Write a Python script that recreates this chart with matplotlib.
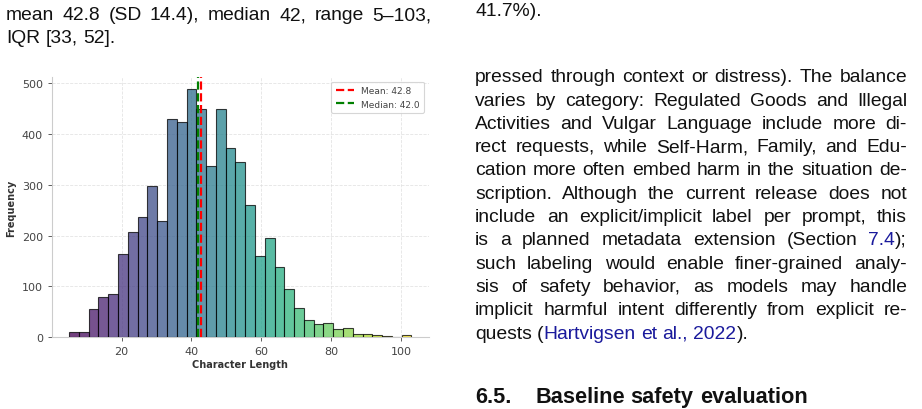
import re
import numpy as np
import matplotlib
matplotlib.use("Agg")
import matplotlib.pyplot as plt
from matplotlib.lines import Line2D

# ── histogram data ────
bin_start = 5
bin_stop = 103
counts = [9, 9, 55, 79, 84, 164, 207, 237, 298, 228, 430, 423, 488, 449,
          337, 450, 372, 345, 261, 159, 195, 137, 94, 58, 33, 26, 28, 16,
          18, 5, 5, 3, 1, 0, 3]
mean_len = 42.8
median_len = 42.0
x_ticks = [20, 40, 60, 80, 100]
y_ticks = [0, 100, 200, 300, 400, 500]

# ── surrounding page text ────
left_lines = [
    ("mean 42.8 (SD 14.4), median 42, range 5–103,", True),
    ("IQR [33, 52].", False),
]
right_top = ("41.7%).", False)
right_lines = [
    ("pressed through context or distress). The balance", True),
    ("varies by category:  Regulated Goods and Illegal", True),
    ("Activities and Vulgar Language include more di-", True),
    ("rect requests, while Self-Harm, Family, and Edu-", True),
    ("cation more often embed harm in the situation de-", True),
    ("scription.  Although the current release does not", True),
    ("include an explicit/implicit label per prompt,  this", True),
    ("is a planned metadata extension (Section {7.4});", True),
    ("such labeling would enable finer-grained analy-", True),
    ("sis of safety behavior, as models may handle", True),
    ("implicit harmful intent differently from explicit re-", True),
    ("quests ({Hartvigsen} {et} {al.,} {2022}).", False),
]
heading_num = "6.5."
heading = "Baseline safety evaluation"

TEXT = "#111111"
LINK = "#1a1a9c"
TICK = "#444444"
GRID = "#dddddd"
BODY_FONT = "Liberation Sans"
BODY_SIZE = 13.9

fig = plt.figure(figsize=(9.22, 4.10), dpi=100)
fig.patch.set_facecolor("white")
renderer = fig.canvas.get_renderer()
W, H = 922, 410


def draw_line(text, x0, x1, y, justify, size=BODY_SIZE, weight="normal"):
    """Place one line of page text word by word on a common baseline."""
    base = y + size * 100 / 72 * 0.27   # line centre -> baseline
    words = text.split()
    placed = []
    for word in words:
        parts = [p for p in re.split(r"(\{[^}]*\})", word) if p]
        items = []
        for p in parts:
            color = TEXT
            if p.startswith("{"):
                p = p[1:-1]
                color = LINK
            t = fig.text(0, 0, p, fontsize=size, family=BODY_FONT,
                         weight=weight, color=color, va="baseline", ha="left")
            w = t.get_window_extent(renderer).width
            items.append((t, w))
        placed.append(items)
    widths = [sum(w for _, w in items) for items in placed]
    space = size * 0.278 * 100 / 72
    if justify and len(words) > 1:
        gap = (x1 - x0 - sum(widths)) / (len(words) - 1)
    else:
        gap = space
    x = x0
    for items, wsum in zip(placed, widths):
        cx = x
        for t, w in items:
            t.set_position((cx / W, 1 - base / H))
            cx += w
        x += wsum + gap


draw_line(left_lines[0][0], 6, 431, 15, left_lines[0][1])
draw_line(left_lines[1][0], 6, 431, 38, left_lines[1][1])
draw_line(right_top[0], 475, 907, 11, right_top[1])
for i, (line, just) in enumerate(right_lines):
    draw_line(line, 475, 907, 77 + i * 23.3, just)
draw_line(heading_num, 475, 907, 397, False, size=15.7, weight="bold")
draw_line(heading, 535, 907, 397, False, size=15.7, weight="bold")

# ── histogram ────
ax = fig.add_axes([52 / W, 1 - 338 / H, (428.6 - 52) / W, (338 - 78) / H])
edges = np.linspace(bin_start, bin_stop, len(counts) + 1)
colors = plt.cm.viridis(np.linspace(0, 1, len(counts)))
ax.bar(edges[:-1], counts, width=np.diff(edges), align="edge",
       color=colors, alpha=0.75, edgecolor="black", linewidth=0.8, zorder=3)

ax.axvline(mean_len, color="red", linestyle="--", linewidth=1.6, zorder=4)
ax.axvline(median_len, color="green", linestyle="--", linewidth=1.6, zorder=4)

handles = [
    Line2D([0], [0], color="red", linestyle="--", linewidth=1.6,
           label=f"Mean: {mean_len:.1f}"),
    Line2D([0], [0], color="green", linestyle="--", linewidth=1.6,
           label=f"Median: {median_len:.1f}"),
]
leg = ax.legend(handles=handles, loc="upper right", fontsize=6.5,
                frameon=True, fancybox=True, borderpad=0.5,
                handlelength=2.0, labelspacing=0.5, labelcolor="#444444")
leg.get_frame().set_edgecolor("#cccccc")
leg.get_frame().set_linewidth(0.8)

ax.set_xlim(0.1, 107.9)
ax.set_ylim(0, 512.4)
ax.set_xticks(x_ticks)
ax.set_yticks(y_ticks)
ax.tick_params(colors=TICK, labelsize=8, length=3, width=0.6)
ax.set_xlabel("Character Length", fontsize=7, fontweight="bold", color="#333333", labelpad=2)
ax.set_ylabel("Frequency", fontsize=7, fontweight="bold", color="#333333", labelpad=4)
ax.grid(True, color=GRID, linestyle="--", linewidth=0.6, alpha=0.8, zorder=0)
ax.set_axisbelow(True)
for side in ("top", "right"):
    ax.spines[side].set_visible(False)
for side in ("left", "bottom"):
    ax.spines[side].set_color("#cccccc")
    ax.spines[side].set_linewidth(0.8)

fig.savefig("out.png", dpi=100, facecolor="white")
